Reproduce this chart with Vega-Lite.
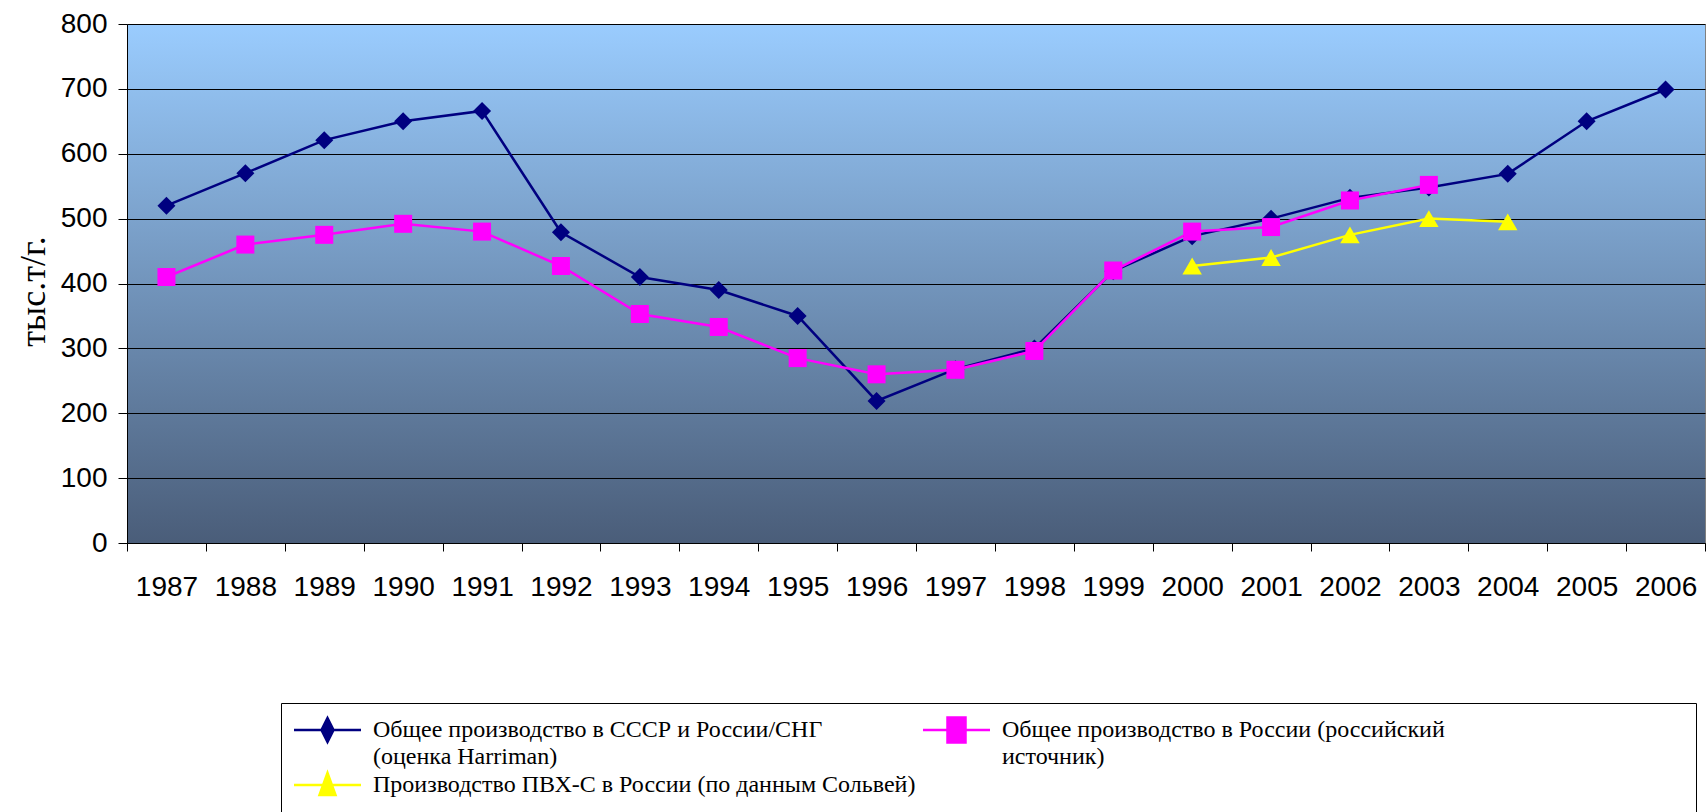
{
  "$schema": "https://vega.github.io/schema/vega-lite/v6.json",
  "width": 1578,
  "height": 519,
  "autosize": {"type": "none"},
  "padding": {"left": 127, "top": 24, "right": 2, "bottom": 269},
  "background": "white",
  "config": {
    "font": "Liberation Sans",
    "view": {
      "fill": {"gradient": "linear", "x1": 0, "y1": 0, "x2": 0, "y2": 1,
        "stops": [{"offset": 0, "color": "#9ACCFE"}, {"offset": 1, "color": "#4A5D79"}]},
      "stroke": "#808080",
      "strokeWidth": 1
    }
  },
  "data": {"values": [
    {"series": "Общее производство в СССР и  России/СНГ (оценка Harriman)", "year": 1987, "value": 520},
    {"series": "Общее производство в СССР и  России/СНГ (оценка Harriman)", "year": 1988, "value": 570},
    {"series": "Общее производство в СССР и  России/СНГ (оценка Harriman)", "year": 1989, "value": 621},
    {"series": "Общее производство в СССР и  России/СНГ (оценка Harriman)", "year": 1990, "value": 650},
    {"series": "Общее производство в СССР и  России/СНГ (оценка Harriman)", "year": 1991, "value": 666},
    {"series": "Общее производство в СССР и  России/СНГ (оценка Harriman)", "year": 1992, "value": 479},
    {"series": "Общее производство в СССР и  России/СНГ (оценка Harriman)", "year": 1993, "value": 410},
    {"series": "Общее производство в СССР и  России/СНГ (оценка Harriman)", "year": 1994, "value": 390},
    {"series": "Общее производство в СССР и  России/СНГ (оценка Harriman)", "year": 1995, "value": 350},
    {"series": "Общее производство в СССР и  России/СНГ (оценка Harriman)", "year": 1996, "value": 219},
    {"series": "Общее производство в СССР и  России/СНГ (оценка Harriman)", "year": 1997, "value": 268},
    {"series": "Общее производство в СССР и  России/СНГ (оценка Harriman)", "year": 1998, "value": 300},
    {"series": "Общее производство в СССР и  России/СНГ (оценка Harriman)", "year": 1999, "value": 419},
    {"series": "Общее производство в СССР и  России/СНГ (оценка Harriman)", "year": 2000, "value": 473},
    {"series": "Общее производство в СССР и  России/СНГ (оценка Harriman)", "year": 2001, "value": 500},
    {"series": "Общее производство в СССР и  России/СНГ (оценка Harriman)", "year": 2002, "value": 532},
    {"series": "Общее производство в СССР и  России/СНГ (оценка Harriman)", "year": 2003, "value": 548},
    {"series": "Общее производство в СССР и  России/СНГ (оценка Harriman)", "year": 2004, "value": 569},
    {"series": "Общее производство в СССР и  России/СНГ (оценка Harriman)", "year": 2005, "value": 650},
    {"series": "Общее производство в СССР и  России/СНГ (оценка Harriman)", "year": 2006, "value": 699},
    {"series": "Общее производство в России (российский источник)", "year": 1987, "value": 410},
    {"series": "Общее производство в России (российский источник)", "year": 1988, "value": 460},
    {"series": "Общее производство в России (российский источник)", "year": 1989, "value": 475},
    {"series": "Общее производство в России (российский источник)", "year": 1990, "value": 492},
    {"series": "Общее производство в России (российский источник)", "year": 1991, "value": 480},
    {"series": "Общее производство в России (российский источник)", "year": 1992, "value": 427},
    {"series": "Общее производство в России (российский источник)", "year": 1993, "value": 353},
    {"series": "Общее производство в России (российский источник)", "year": 1994, "value": 333},
    {"series": "Общее производство в России (российский источник)", "year": 1995, "value": 285},
    {"series": "Общее производство в России (российский источник)", "year": 1996, "value": 260},
    {"series": "Общее производство в России (российский источник)", "year": 1997, "value": 267},
    {"series": "Общее производство в России (российский источник)", "year": 1998, "value": 296},
    {"series": "Общее производство в России (российский источник)", "year": 1999, "value": 420},
    {"series": "Общее производство в России (российский источник)", "year": 2000, "value": 480},
    {"series": "Общее производство в России (российский источник)", "year": 2001, "value": 487},
    {"series": "Общее производство в России (российский источник)", "year": 2002, "value": 528},
    {"series": "Общее производство в России (российский источник)", "year": 2003, "value": 552},
    {"series": "Производство ПВХ-С в России (по данным Сольвей)", "year": 2000, "value": 427},
    {"series": "Производство ПВХ-С в России (по данным Сольвей)", "year": 2001, "value": 440},
    {"series": "Производство ПВХ-С в России (по данным Сольвей)", "year": 2002, "value": 475},
    {"series": "Производство ПВХ-С в России (по данным Сольвей)", "year": 2003, "value": 500},
    {"series": "Производство ПВХ-С в России (по данным Сольвей)", "year": 2004, "value": 495}
  ]},
  "encoding": {
    "x": {
      "field": "year", "type": "ordinal", "bandPosition": 0.5,
      "scale": {"type": "band", "paddingInner": 0, "paddingOuter": 0},
      "axis": {"title": null, "tickBand": "extent", "labelAngle": 0, "labelFontSize": 28, "labelColor": "#000",
        "tickColor": "#000", "tickSize": 8, "labelPadding": 22, "domainColor": "#000", "grid": false}
    },
    "y": {
      "field": "value", "type": "quantitative",
      "scale": {"domain": [0, 800], "nice": false},
      "axis": {"title": "тыс.т/г.", "titleFont": "Liberation Serif", "titleFontSize": 36, "titleFontWeight": "normal",
        "titleColor": "#000", "titlePadding": 8, "titleY": 267, "values": [0, 100, 200, 300, 400, 500, 600, 700, 800],
        "labelFontSize": 28, "labelColor": "#000", "tickColor": "#000", "tickSize": 9, "labelPadding": 11,
        "gridColor": "#000", "gridOpacity": 1, "gridWidth": 1, "domainColor": "#000"}
    },
    "color": {
      "field": "series", "type": "nominal",
      "scale": {
        "domain": ["Общее производство в СССР и  России/СНГ (оценка Harriman)", "Общее производство в России (российский источник)", "Производство ПВХ-С в России (по данным Сольвей)"],
        "range": ["#000080", "#FF00FF", "#FFFF00"]
      },
      "legend": {
        "orient": "none", "legendX": 154, "legendY": 679, "direction": "horizontal", "columns": 2, "columnPadding": 2, "rowPadding": -5,
        "padding": 11, "strokeColor": "#000", "fillColor": "#fff",
        "title": " ", "titleOrient": "right", "titlePadding": 240,
        "labelFont": "Liberation Serif", "labelFontSize": 24, "labelColor": "#000", "labelLimit": 0, "labelOffset": 57,
        "symbolSize": 400, "symbolStrokeWidth": 2.5,
        "labelExpr": "indexof(datum.label, 'СССР') >= 0 ? ['Общее производство в СССР и  России/СНГ', ' (оценка Harriman)'] : indexof(datum.label, 'ПВХ') >= 0 ? ['Производство ПВХ-С в России (по данным Сольвей)', ' '] : ['Общее производство в России (российский', 'источник)']",
        "encode": {
          "labels": {"update": {"lineHeight": {"value": 27}, "dy": {"value": 4}}},
          "symbols": {"update": {
            "shape": {"signal": "indexof(datum.value, 'СССР') >= 0 ? 'M-1,0.4H5.7M2.35,-0.8L2.95,0.4L2.35,1.6L1.75,0.4Z' : indexof(datum.value, 'ПВХ') >= 0 ? 'M-1,0.4H5.7M2.35,-0.8L3.15,1.4L1.55,1.4Z' : 'M-1,0.4H5.7M1.45,-0.84H3.25V1.64H1.45Z'"},
            "size": {"value": 400},
            "fill": {"scale": "color", "field": "value"},
            "stroke": {"scale": "color", "field": "value"},
            "strokeWidth": {"value": 2.5},
            "opacity": {"value": 1}
          }}
        }
      }
    }
  },
  "layer": [
    {"mark": {"type": "line", "strokeWidth": 2.5}},
    {
      "transform": [{"filter": {"field": "series", "equal": "Общее производство в СССР и  России/СНГ (оценка Harriman)"}}],
      "mark": {"type": "point", "filled": true, "opacity": 1, "shape": "diamond", "size": 324}
    },
    {
      "transform": [{"filter": {"field": "series", "equal": "Общее производство в России (российский источник)"}}],
      "mark": {"type": "point", "filled": true, "opacity": 1, "shape": "square", "size": 324}
    },
    {
      "transform": [{"filter": {"field": "series", "equal": "Производство ПВХ-С в России (по данным Сольвей)"}}],
      "mark": {"type": "point", "filled": true, "opacity": 1, "shape": "triangle-up", "size": 380}
    }
  ]
}
